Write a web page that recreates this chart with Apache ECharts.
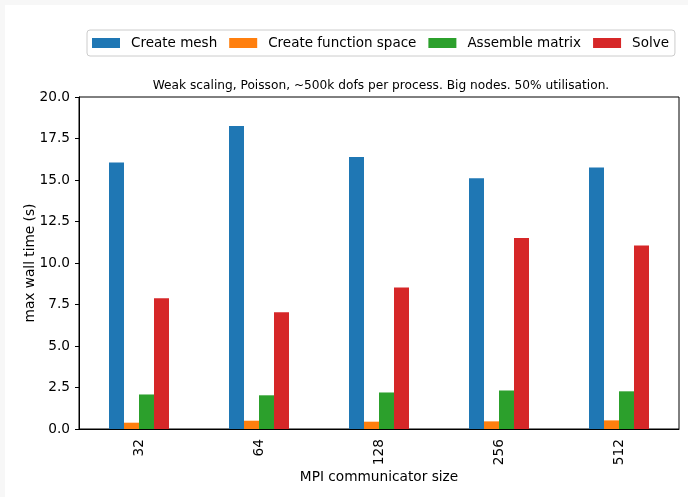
<!DOCTYPE html>
<html>
<head>
<meta charset="utf-8">
<script src="https://cdn.jsdelivr.net/npm/echarts@6/dist/echarts.min.js"></script>
<style>
  html, body { margin: 0; padding: 0; background: #ffffff; }
  #chart { width: 688px; height: 497px; }
</style>
</head>
<body>
<div id="chart"></div>
<script>
// MPI communicator sizes (x categories)
const commSizes = ['32', '64', '128', '256', '512'];

// Max wall time (s) per phase
const createMesh = [16.05, 18.25, 16.38, 15.10, 15.76];
const createFunctionSpace = [0.38, 0.50, 0.44, 0.46, 0.52];
const assembleMatrix = [2.08, 2.03, 2.20, 2.32, 2.27];
const solve = [7.87, 7.03, 8.53, 11.50, 11.06];

// Y axis ticks
const yMin = 0, yMax = 20, yStep = 2.5;

const seriesNames = ['Create mesh', 'Create function space', 'Assemble matrix', 'Solve'];
const seriesData = [createMesh, createFunctionSpace, assembleMatrix, solve];
const colors = ['#1f77b4', '#ff7f0e', '#2ca02c', '#d62728'];

const font = 'DejaVu Sans';
const fs = 13.7;
const chart = echarts.init(document.getElementById('chart'), null, { renderer: 'canvas' });

chart.setOption({
  animation: false,
  backgroundColor: '#ffffff',
  color: colors,
  textStyle: { fontFamily: font },
  graphic: [
    { type: 'rect', left: 0, top: 0, shape: { width: 688, height: 5 }, style: { fill: '#f7f7f7' }, silent: true },
    { type: 'rect', left: 0, top: 0, shape: { width: 5, height: 497 }, style: { fill: '#f7f7f7' }, silent: true }
  ],
  title: {
    text: 'Weak scaling, Poisson, ~500k dofs per process. Big nodes. 50% utilisation.',
    left: 381,
    textAlign: 'center',
    top: 80,
    padding: 0,
    textStyle: { fontFamily: font, fontSize: 12.2, fontWeight: 'normal', color: '#000' }
  },
  legend: {
    left: 87,
    top: 30,
    padding: [6, 6, 6, 5],
    itemWidth: 28,
    itemHeight: 10,
    itemGap: 12,
    borderColor: '#cccccc',
    borderWidth: 1,
    borderRadius: 3,
    icon: 'rect',
    data: seriesNames,
    textStyle: { fontFamily: font, fontSize: 13.5, color: '#000', padding: [0, 0, 0, 6] }
  },
  grid: {
    left: 79,
    top: 97,
    right: 9,
    bottom: 68,
    show: true,
    borderColor: '#000',
    borderWidth: 1,
    containLabel: false
  },
  xAxis: {
    type: 'category',
    data: commSizes,
    name: 'MPI communicator size',
    nameLocation: 'middle',
    nameGap: 41,
    nameMoveOverlap: false,
    nameTextStyle: { fontFamily: font, fontSize: fs, color: '#000' },
    axisLine: { lineStyle: { color: '#000', width: 1 } },
    axisTick: { alignWithLabel: true, length: 4, lineStyle: { color: '#000' } },
    axisLabel: { rotate: 90, margin: 10, fontFamily: font, fontSize: fs, color: '#000' },
    splitLine: { show: false }
  },
  yAxis: {
    type: 'value',
    min: yMin,
    max: yMax,
    interval: yStep,
    name: 'max wall time (s)',
    nameLocation: 'middle',
    nameGap: 42,
    nameMoveOverlap: false,
    nameTextStyle: { fontFamily: font, fontSize: fs, color: '#000' },
    axisLine: { show: true, lineStyle: { color: '#000', width: 1 } },
    axisTick: { show: true, length: 4, lineStyle: { color: '#000' } },
    axisLabel: { margin: 9, fontFamily: font, fontSize: fs, color: '#000', formatter: v => v.toFixed(1) },
    splitLine: { show: false }
  },
  series: seriesNames.map((name, i) => ({
    name: name,
    type: 'bar',
    data: seriesData[i],
    barWidth: 15,
    barGap: '0%',
    itemStyle: { color: colors[i] }
  }))
});
</script>
</body>
</html>
